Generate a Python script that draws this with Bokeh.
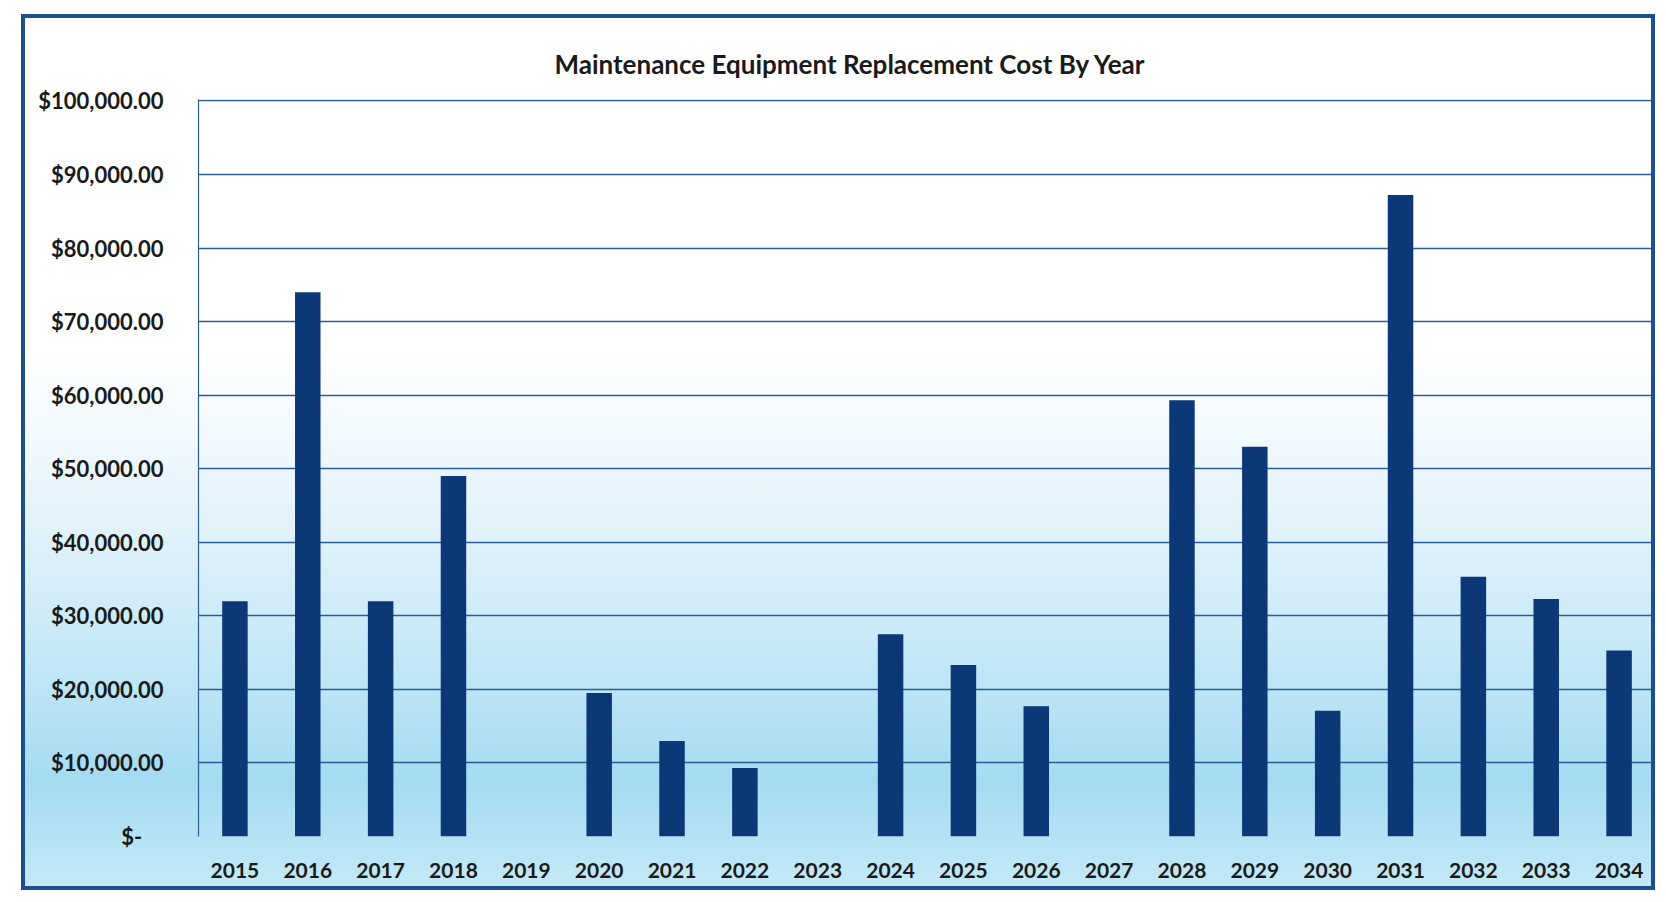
from bokeh.plotting import figure
from bokeh.models import LinearAxis, CustomJSTickFormatter, Range1d, FixedTicker
from bokeh.embed import file_html
from bokeh.resources import INLINE

years = [str(y) for y in range(2015, 2035)]
costs = [32000, 74000, 32000, 49000, 0, 19500, 13000, 9300, 0, 27500,
         23300, 17700, 0, 59300, 53000, 17100, 87200, 35300, 32300, 25300]
title_text = "Maintenance Equipment Replacement Cost By Year"
y_ticks = list(range(0, 100001, 10000))

FONT = "Lato"

p = figure(x_range=years, y_range=Range1d(0, 100200), width=1634, height=876,
           output_backend="svg", toolbar_location=None,
           min_border_left=173, min_border_right=4, min_border_top=81, min_border_bottom=58)

p.styles = {
    "background": "linear-gradient(to bottom, #ffffff 0%, #ffffff 38%, #e3f3fb 58%, #bfe6f6 76%, #a4dbf1 88%, #c4e9f7 100%)",
    "border": "4px solid #1d4f8e",
    "box-sizing": "border-box",
    "margin-left": "21px",
    "margin-top": "14px",
}
p.background_fill_color = None
p.border_fill_color = None
p.outline_line_color = None

p.vbar(x=years, top=costs, width=0.35, fill_color="#0d3877", line_color=None)

p.title.text = title_text
p.title.text_font = FONT
p.title.text_font_style = "bold"
p.title.text_font_size = "26px"
p.title.text_color = "#1a1a1a"
p.title.align = "left"
p.title.offset = 356
p.title.standoff = 40

p.ygrid.ticker = FixedTicker(ticks=y_ticks)
p.ygrid.grid_line_color = "#2b5d96"
p.ygrid.grid_line_width = 1.6
p.xgrid.grid_line_color = None

p.yaxis.ticker = FixedTicker(ticks=y_ticks)
p.yaxis.formatter = CustomJSTickFormatter(code="""
if (tick == 0) { return "$-    "; }
return "$" + tick.toLocaleString("en-US", {minimumFractionDigits: 2, maximumFractionDigits: 2});
""")
p.yaxis.major_label_text_font = FONT
p.yaxis.major_label_text_font_style = "bold"
p.yaxis.major_label_text_font_size = "22px"
p.yaxis.major_label_text_color = "#1a1a1a"
p.yaxis.major_label_standoff = 29
p.yaxis.axis_line_color = "#2b5d96"
p.yaxis.axis_line_width = 1.2
p.yaxis.major_tick_line_color = None
p.yaxis.minor_tick_line_color = None

p.xaxis.major_label_text_font = FONT
p.xaxis.major_label_text_font_style = "bold"
p.xaxis.major_label_text_font_size = "21px"
p.xaxis.major_label_text_color = "#1a1a1a"
p.xaxis.major_label_standoff = 20
p.xaxis.axis_line_color = None
p.xaxis.major_tick_line_color = None
p.xaxis.minor_tick_line_color = None

right = LinearAxis(major_label_text_font_size="0px", major_tick_line_color=None,
                   minor_tick_line_color=None, axis_line_color="#2b5d96", axis_line_width=1.2)
right.ticker = FixedTicker(ticks=[])
p.add_layout(right, "right")

open("out.html", "w").write(file_html(p, INLINE))
